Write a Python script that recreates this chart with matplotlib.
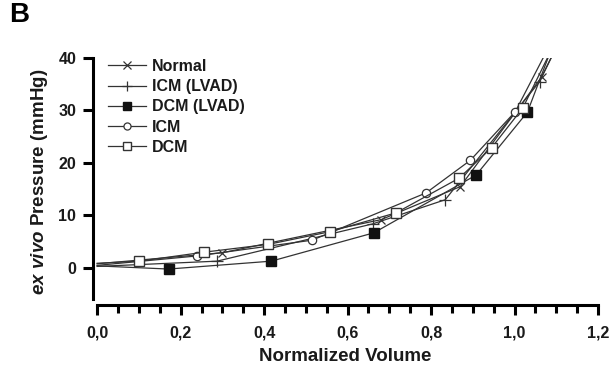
import matplotlib
matplotlib.use("Agg")
import matplotlib.pyplot as plt
from matplotlib.ticker import MultipleLocator, FuncFormatter

plt.rcParams['font.family'] = ['Liberation Sans', 'DejaVu Sans']
plt.rcParams['mathtext.fontset'] = 'custom'
plt.rcParams['mathtext.it'] = 'Liberation Sans:italic:bold'
plt.rcParams['mathtext.rm'] = 'Liberation Sans:bold'

# Data (first/last entries are the line ends)
normal_v = [0.00, 0.30, 0.68, 0.87, 1.065, 1.10]
normal_p = [0.8, 2.9, 9.2, 15.5, 36.4, 42.0]

icm_lvad_v = [0.00, 0.287, 0.66, 0.834, 1.06, 1.10]
icm_lvad_p = [0.3, 1.3, 8.4, 13.0, 35.5, 42.0]

dcm_lvad_v = [0.00, 0.171, 0.417, 0.663, 0.908, 1.031, 1.085]
dcm_lvad_p = [0.4, -0.2, 1.3, 6.7, 17.7, 29.7, 41.0]

icm_v = [0.00, 0.24, 0.515, 0.788, 0.894, 1.002, 1.075]
icm_p = [0.5, 2.3, 5.3, 14.3, 20.5, 29.8, 41.0]

dcm_v = [0.00, 0.101, 0.255, 0.41, 0.557, 0.716, 0.867, 0.945, 1.02, 1.085]
dcm_p = [0.9, 1.3, 3.0, 4.5, 6.9, 10.5, 17.1, 22.9, 30.5, 41.0]

series_names = ['Normal', 'ICM (LVAD)', 'DCM (LVAD)', 'ICM', 'DCM']

fig = plt.figure(figsize=(6.13, 3.72), dpi=100)
ax = fig.add_axes([0.1517, 0.1808, 0.8238, 0.6633])

lc = '#333333'
common = dict(color=lc, lw=0.9, clip_on=True)

def draw(v, p, label, **mk):
    n = len(v)
    ax.plot(v, p, markevery=list(range(1, n - 1)), label=label, **common, **mk)

draw(normal_v, normal_p, series_names[0], marker='x', ms=6, mew=0.9, mec=lc)
draw(icm_lvad_v, icm_lvad_p, series_names[1], marker='+', ms=8, mew=0.9, mec=lc)
draw(dcm_lvad_v, dcm_lvad_p, series_names[2], marker='s', ms=7, mfc='#111111', mec='#111111')
draw(icm_v, icm_p, series_names[3], marker='o', ms=6, mfc='white', mec=lc, mew=0.9)
draw(dcm_v, dcm_p, series_names[4], marker='s', ms=7, mfc='white', mec=lc, mew=1.0)

ax.set_xlim(-0.01, 1.2)
ax.set_ylim(-7, 40)
ax.spines['top'].set_visible(False)
ax.spines['right'].set_visible(False)
for s in ['left', 'bottom']:
    ax.spines[s].set_linewidth(2.2)
ax.spines['left'].set_bounds(-6, 40)
ax.spines['bottom'].set_bounds(0, 1.2)

ax.xaxis.set_major_locator(MultipleLocator(0.2))
ax.xaxis.set_minor_locator(MultipleLocator(0.05))
ax.set_yticks([0, 10, 20, 30, 40])
ax.xaxis.set_major_formatter(FuncFormatter(lambda x, pos: f"{x:.1f}".replace('.', ',')))
ax.tick_params(axis='both', which='major', length=7, width=2.2, labelsize=11.5, pad=5)
ax.tick_params(axis='x', which='major', pad=8)
ax.tick_params(axis='x', which='minor', length=6, width=2.2)
for lab in ax.get_xticklabels() + ax.get_yticklabels():
    lab.set_fontweight('bold')
    lab.set_color('#1a1a1a')

ax.set_xlabel('Normalized Volume', fontsize=13.5, fontweight='bold', labelpad=5, color='#1a1a1a')
ax.set_ylabel(r'$\mathit{ex\ vivo}$ Pressure (mmHg)', fontsize=13.5, fontweight='bold', labelpad=6,
              color='#1a1a1a')

leg = ax.legend(loc='upper left', bbox_to_anchor=(0.01, 1.035), frameon=False,
                prop={'weight': 'bold', 'size': 11.5}, handlelength=2.4, markerscale=0.85,
                handletextpad=0.35, labelspacing=0.33, borderaxespad=0.2)
for t in leg.get_texts():
    t.set_color('#1a1a1a')

fig.text(0.015, 0.995, 'B', fontsize=20, fontweight='bold', va='top', ha='left')

fig.savefig('out.png', dpi=100)
